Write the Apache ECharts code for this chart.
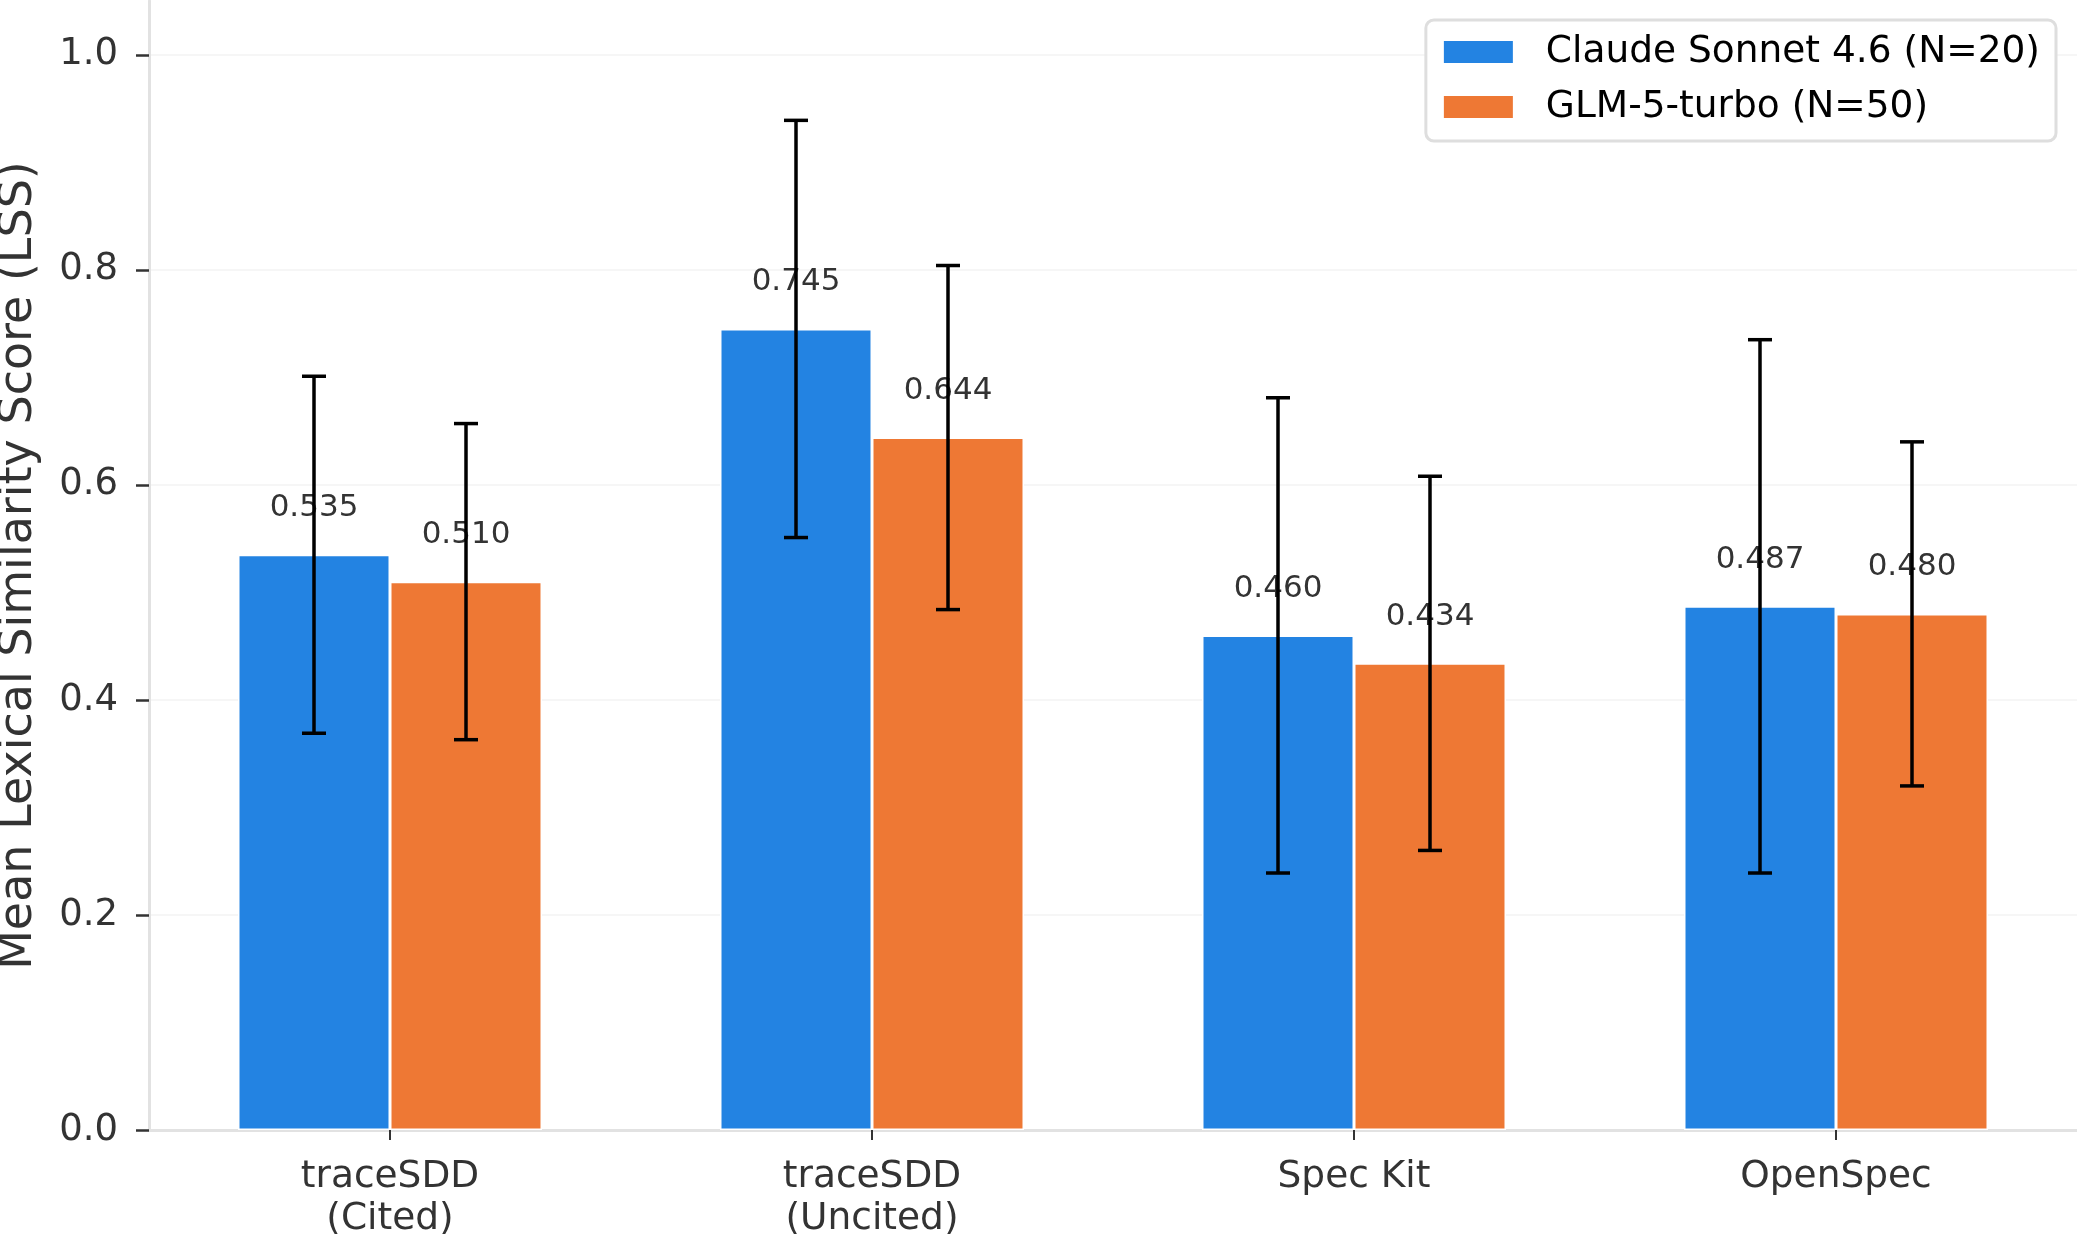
<!DOCTYPE html>
<html>
<head>
<meta charset="utf-8">
<script src="https://cdn.jsdelivr.net/npm/echarts@6/dist/echarts.min.js"></script>
<style>
  html, body { margin: 0; padding: 0; background: #fff; }
  #chart { width: 2077px; height: 1234px; }
</style>
</head>
<body>
<div id="chart"></div>
<script>
const categories = ['traceSDD\n(Cited)', 'traceSDD\n(Uncited)', 'Spec Kit', 'OpenSpec']
const seriesNames = ['Claude Sonnet 4.6 (N=20)', 'GLM-5-turbo (N=50)']
const claudeMean = [0.535, 0.745, 0.460, 0.487]
const claudeErr = [0.166, 0.194, 0.221, 0.248]
const glmMean = [0.510, 0.644, 0.434, 0.480]
const glmErr = [0.147, 0.160, 0.174, 0.160]
const yTicks = [0, 0.2, 0.4, 0.6, 0.8, 1.0]

const FONT = 'DejaVu Sans'
const BAR_W = 152
const colors = ['#2383e2', '#ee7834']

const chart = echarts.init(document.getElementById('chart'), null, { renderer: 'canvas' })

// error bar data: [category index, low, high]
const errData = (mean, err) => mean.map((m, i) => [i, m - err[i], m + err[i]])

const errorSeries = (data, side) => ({
  type: 'custom',
  z: 10,
  silent: true,
  encode: { x: 0, y: [1, 2] },
  data: data,
  renderItem: (params, api) => {
    const x = api.coord([api.value(0), 0])[0] + side * BAR_W / 2
    const lo = api.coord([api.value(0), api.value(1)])[1]
    const hi = api.coord([api.value(0), api.value(2)])[1]
    const cap = 12
    const style = { stroke: '#000', lineWidth: 3.5 }
    return {
      type: 'group',
      children: [
        { type: 'line', shape: { x1: x, y1: lo, x2: x, y2: hi }, style },
        { type: 'line', shape: { x1: x - cap, y1: hi, x2: x + cap, y2: hi }, style },
        { type: 'line', shape: { x1: x - cap, y1: lo, x2: x + cap, y2: lo }, style }
      ]
    }
  }
})

const barLabel = {
  show: true,
  position: 'top',
  distance: 31,
  fontFamily: FONT,
  fontSize: 31,
  color: '#333',
  formatter: p => p.value.toFixed(3)
}

const option = {
  animation: false,
  backgroundColor: '#fff',
  textStyle: { fontFamily: FONT },
  grid: { left: 149, right: 0, top: 1, bottom: 104, containLabel: false, outerBoundsMode: 'none' },
  legend: {
    orient: 'vertical',
    right: 21,
    top: 20,
    data: seriesNames,
    icon: 'rect',
    itemWidth: 71,
    itemHeight: 24,
    itemGap: 17,
    padding: [13, 16, 15, 16],
    backgroundColor: '#fff',
    borderColor: '#dedede',
    borderWidth: 3,
    borderRadius: 8,
    textStyle: { fontFamily: FONT, fontSize: 37.5, color: '#000', padding: [0, 0, 0, 27] }
  },
  xAxis: {
    type: 'category',
    data: categories,
    axisLine: { show: true, lineStyle: { color: '#e2e2e2', width: 3 } },
    axisTick: { show: true, alignWithLabel: true, length: 10, lineStyle: { color: '#333', width: 2 } },
    axisLabel: { fontFamily: FONT, fontSize: 37.5, lineHeight: 42, color: '#333', margin: 26 },
    splitLine: { show: false }
  },
  yAxis: {
    type: 'value',
    min: 0,
    max: 1.05,
    interval: 0.2,
    name: 'Mean Lexical Similarity Score (LSS)',
    nameLocation: 'middle',
    nameGap: 107,
    nameTextStyle: { fontFamily: FONT, fontSize: 46, color: '#333' },
    axisLine: { show: true, lineStyle: { color: '#e2e2e2', width: 3 } },
    axisTick: { show: true, length: 13, lineStyle: { color: '#333', width: 2.5 }, customValues: yTicks },
    axisLabel: {
      fontFamily: FONT, fontSize: 37, color: '#333', margin: 31,
      customValues: yTicks,
      formatter: v => v.toFixed(1)
    },
    splitLine: { show: true, lineStyle: { color: '#f3f3f3', width: 1.5 } }
  },
  series: [
    {
      name: seriesNames[0],
      type: 'bar',
      data: claudeMean,
      barWidth: BAR_W,
      barGap: '0%',
      itemStyle: { color: colors[0], borderColor: '#fff', borderWidth: 1.5 },
      label: barLabel
    },
    {
      name: seriesNames[1],
      type: 'bar',
      data: glmMean,
      barWidth: BAR_W,
      barGap: '0%',
      itemStyle: { color: colors[1], borderColor: '#fff', borderWidth: 1.5 },
      label: barLabel
    },
    errorSeries(errData(claudeMean, claudeErr), -1),
    errorSeries(errData(glmMean, glmErr), 1)
  ]
}

chart.setOption(option)
</script>
</body>
</html>
